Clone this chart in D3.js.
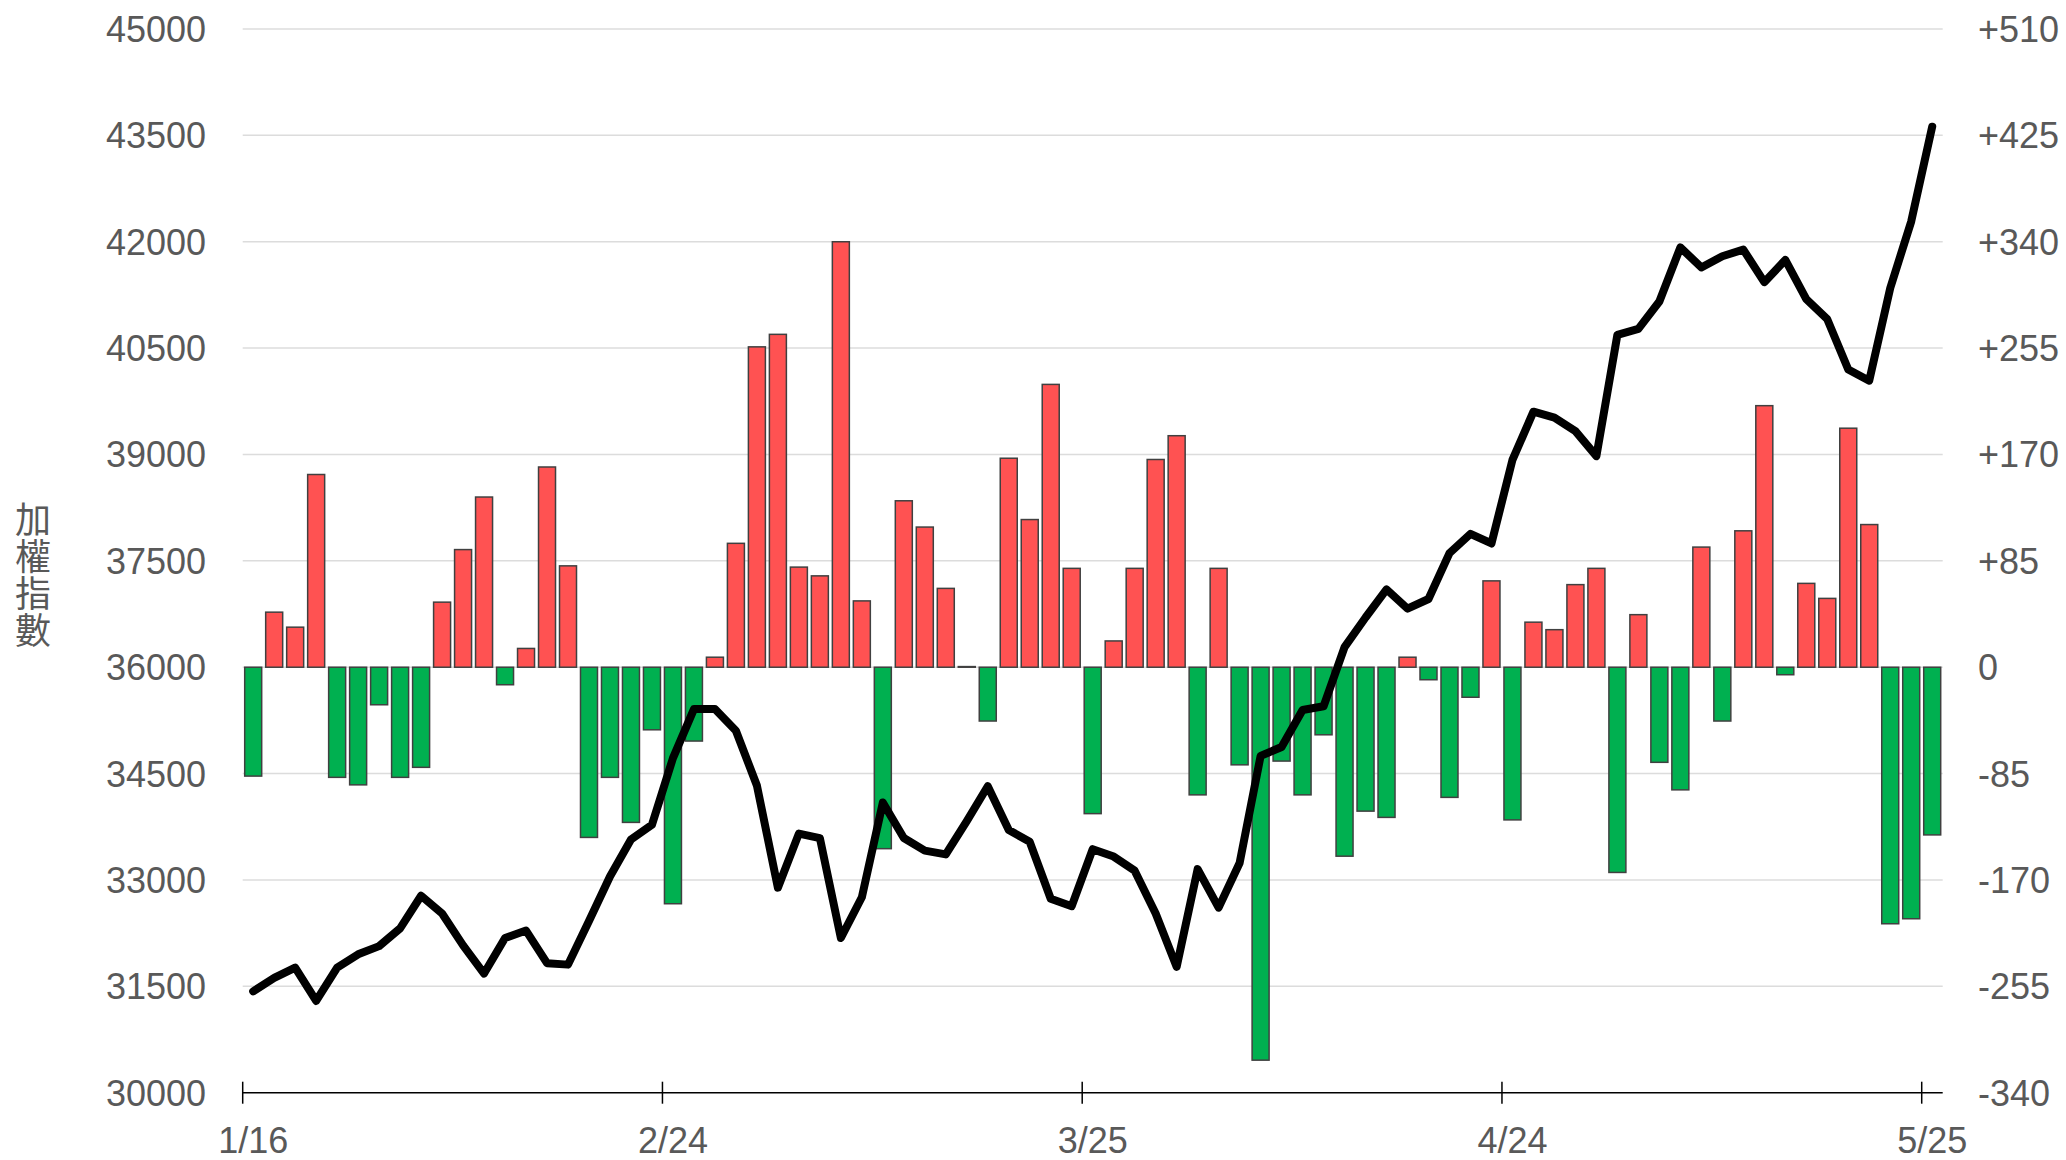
<html>
<head>
<meta charset="utf-8">
<script src="https://cdn.jsdelivr.net/npm/d3@7"></script>
<style>
  body { margin: 0; background: #fff; }
  text { font-family: "Liberation Sans", Arial, "Noto Sans CJK TC", sans-serif; }
</style>
</head>
<body>
<div id="viz"></div>
<script>
// daily change (right axis) and index close (left axis), one per trading day
var changes = [-87, 44, 32, 154, -88, -94, -30, -88, -80, 52,
  94, 136, -14, 15, 160, 81, -136, -88, -124, -50,
  -189, -59, 8, 99, 256, 266, 80, 73, 340, 53,
  -145, 133, 112, 63, 0.5, -43, 167, 118, 226, 79,
  -117, 21, 79, 166, 185, -102, 79, -78, -314, -75,
  -102, -54, -151, -115, -120, 8, -10, -104, -24, 69,
  -122, 36, 30, 66, 79, -164, 42, -76, -98, 96,
  -43, 109, 209, -6, 67, 55, 191, 114, -205, -201,
  -134];
var closes = [31430, 31618, 31764, 31294, 31764, 31952, 32067, 32317, 32777, 32526,
  32077, 31680, 32182, 32286, 31827, 31806, 32422, 33048, 33570, 33779,
  34718, 35410, 35410, 35104, 34332, 32891, 33653, 33591, 32182, 32756,
  34092, 33591, 33413, 33361, 33831, 34321, 33705, 33538, 32735, 32630,
  33434, 33330, 33131, 32526, 31774, 33152, 32610, 33240, 34749, 34875,
  35396, 35449, 36284, 36701, 37098, 36826, 36962, 37609, 37881, 37745,
  38924, 39603, 39519, 39330, 38977, 40688, 40772, 41158, 41920, 41638,
  41795, 41889, 41430, 41743, 41190, 40908, 40198, 40041, 41346, 42286,
  43622];
var dateLabels = ["1/16", "2/24", "3/25", "4/24", "5/25"];
var dateIndex = [0, 20, 40, 60, 80];
var leftTicks = [30000, 31500, 33000, 34500, 36000, 37500, 39000, 40500, 42000, 43500, 45000];
var rightTicks = [-340, -255, -170, -85, 0, 85, 170, 255, 340, 425, 510];

var width = 2066, height = 1160;
var plotLeft = 242.7, plotRight = 1942.7, plotTop = 29, plotBottom = 1092.7;

var svg = d3.select("#viz").append("svg")
  .attr("width", width)
  .attr("height", height);

var x = d3.scaleBand()
  .domain(d3.range(changes.length))
  .range([plotLeft, plotRight])
  .paddingInner(0.19)
  .paddingOuter(0.095);
var step = x.step();

var yL = d3.scaleLinear().domain([30000, 45000]).range([plotBottom, plotTop]);
var yR = d3.scaleLinear().domain([-340, 510]).range([plotBottom, plotTop]);

// grid
svg.append("g").selectAll("line")
  .data(leftTicks.slice(1))
  .enter().append("line")
  .attr("x1", plotLeft).attr("x2", plotRight)
  .attr("y1", function(d) { return yL(d); })
  .attr("y2", function(d) { return yL(d); })
  .attr("stroke", "#dcdcdc")
  .attr("stroke-width", 1.5);

// left axis labels
svg.append("g").selectAll("text")
  .data(leftTicks)
  .enter().append("text")
  .attr("x", 206)
  .attr("y", function(d) { return yL(d); })
  .attr("dy", "0.36em")
  .attr("text-anchor", "end")
  .attr("font-size", 36)
  .attr("fill", "#595959")
  .text(function(d) { return d; });

// right axis labels
svg.append("g").selectAll("text")
  .data(rightTicks)
  .enter().append("text")
  .attr("x", 1978)
  .attr("y", function(d) { return yR(d); })
  .attr("dy", "0.36em")
  .attr("text-anchor", "start")
  .attr("font-size", 36)
  .attr("fill", "#595959")
  .text(function(d) { return d > 0 ? "+" + d : d; });

// axis title, stacked vertically
svg.append("text")
  .attr("x", 33)
  .attr("y", 501)
  .attr("writing-mode", "tb")
  .style("text-orientation", "upright")
  .style("font-family", "'Noto Sans CJK TC', sans-serif")
  .attr("font-size", 36)
  .attr("letter-spacing", 1)
  .attr("fill", "#595959")
  .text("加權指數");

// bars
svg.append("g").selectAll("rect")
  .data(changes)
  .enter().append("rect")
  .attr("x", function(d, i) { return x(i); })
  .attr("width", x.bandwidth())
  .attr("y", function(d) { return yR(Math.max(d, 0)); })
  .attr("height", function(d) { return Math.abs(yR(d) - yR(0)); })
  .attr("fill", function(d) { return d >= 0 ? "#ff5252" : "#00b050"; })
  .attr("stroke", "#404040")
  .attr("stroke-width", 1.5);

// x axis
svg.append("line")
  .attr("x1", plotLeft).attr("x2", plotRight)
  .attr("y1", plotBottom).attr("y2", plotBottom)
  .attr("stroke", "#000")
  .attr("stroke-width", 1.5);
svg.append("g").selectAll("line")
  .data(dateIndex)
  .enter().append("line")
  .attr("x1", function(d) { return plotLeft + d * step; })
  .attr("x2", function(d) { return plotLeft + d * step; })
  .attr("y1", plotBottom - 11).attr("y2", plotBottom + 11)
  .attr("stroke", "#000")
  .attr("stroke-width", 1.5);
svg.append("g").selectAll("text")
  .data(dateIndex)
  .enter().append("text")
  .attr("x", function(d) { return x(d) + x.bandwidth() / 2; })
  .attr("y", 1153)
  .attr("text-anchor", "middle")
  .attr("font-size", 36)
  .attr("fill", "#595959")
  .text(function(d, i) { return dateLabels[i]; });

// index line
var line = d3.line()
  .x(function(d, i) { return x(i) + x.bandwidth() / 2; })
  .y(function(d) { return yL(d); });
svg.append("path")
  .datum(closes)
  .attr("d", line)
  .attr("fill", "none")
  .attr("stroke", "#000")
  .attr("stroke-width", 8)
  .attr("stroke-linejoin", "round")
  .attr("stroke-linecap", "round");
</script>
</body>
</html>
